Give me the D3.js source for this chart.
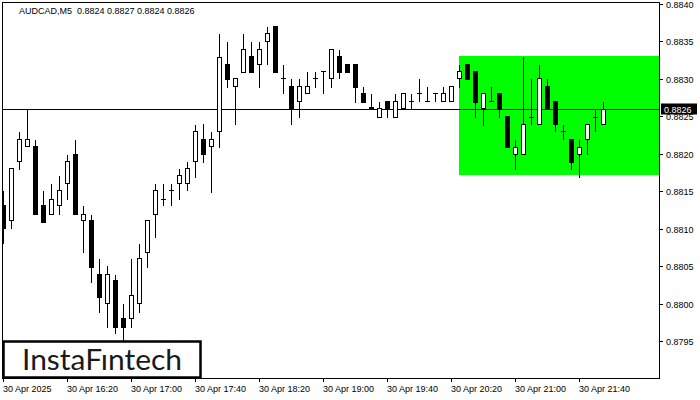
<!DOCTYPE html>
<html>
<head>
<meta charset="utf-8">
<script src="https://cdn.jsdelivr.net/npm/d3@7/dist/d3.min.js"></script>
<style>
  html, body { margin: 0; padding: 0; background: #fff; }
  svg { display: block; }
</style>
</head>
<body>
<svg id="chart" width="700" height="400"></svg>
<script>
// ---------------- DATA ----------------
const symbolTitle = "AUDCAD,M5  0.8824 0.8827 0.8824 0.8826";
const startTime = new Date(2025, 3, 30, 15, 40); // first bar
const barMinutes = 5;

const openValues = [
  .88131,.88111,.88191,.88211,.88211,.88131,.88119,.88131,.88161,.88200,
  .88111,.88111,.88040,.88001,.88031,.87981,.87981,.88001,.88069,.88120,
  .88140,.88151,.88161,.88161,.88191,.88220,.88211,.88230,.88320,.88291,
  .88309,.88331,.88320,.88351,.88371,.88301,.88291,.88271,.88281,.88301,
  .88311,.88301,.88331,.88320,.88320,.88281,.88263,.88249,.88271,.88249,
  .88261,.88271,.88281,.88271,.88281,.88271,.88271,.88301,.88320,.88311,
  .88261,.88271,.88281,.88251,.88200,.88200,.88249,.88240,.88291,.88271,
  .88230,.88220,.88200,.88220,.88249,.8824
];
const highValues = [
  .88151,.88181,.88231,.88261,.88220,.88151,.88161,.88171,.88200,.88220,
  .88131,.88120,.88061,.88051,.88040,.88001,.88061,.88081,.88111,.88161,
  .88161,.88161,.88181,.88191,.88240,.88241,.88231,.88361,.88351,.88301,
  .88361,.88351,.88351,.88371,.88371,.88320,.88301,.88301,.88311,.88311,
  .88311,.88340,.88340,.88320,.88320,.88291,.88281,.88271,.88271,.88281,
  .88281,.88281,.88301,.88291,.88281,.88291,.88291,.88320,.88320,.88311,
  .88281,.88291,.88281,.88251,.88220,.88331,.88301,.88320,.88301,.88271,
  .88240,.88220,.88220,.88240,.88261,.8827
];
const lowValues = [
  .88081,.88101,.88180,.88211,.88119,.88109,.88119,.88119,.88139,.88119,
  .88069,.88029,.87989,.87969,.87961,.87952,.87969,.87989,.88049,.88089,
  .88131,.88131,.88140,.88151,.88169,.88189,.88149,.88209,.88289,.88240,
  .88309,.88309,.88289,.88320,.88309,.88281,.88240,.88249,.88281,.88289,
  .88281,.88289,.88301,.88309,.88269,.88269,.88261,.88249,.88249,.88249,
  .88261,.88261,.88271,.88271,.88271,.88271,.88271,.88289,.88300,.88249,
  .88238,.88271,.88249,.88209,.88180,.88200,.88240,.88240,.88261,.88230,
  .88220,.88180,.88169,.88200,.88230,.8824
];
const closeValues = [
  .88101,.88181,.88220,.88220,.88119,.88109,.88140,.88151,.88191,.88119,
  .88119,.88049,.88009,.88040,.87969,.87969,.88011,.88061,.88111,.88151,
  .88140,.88151,.88171,.88181,.88231,.88200,.88220,.88329,.88300,.88301,
  .88340,.88309,.88340,.88361,.88309,.88301,.88261,.88291,.88291,.88301,
  .88311,.88340,.88309,.88309,.88289,.88269,.88261,.88261,.88261,.88271,
  .88281,.88271,.88281,.88271,.88281,.88281,.88291,.88311,.88300,.88269,
  .88281,.88271,.88261,.88209,.88209,.88240,.88249,.88301,.88261,.88240,
  .88230,.88189,.88209,.88240,.88249,.8826
];

const priceTicks = [0.8840,0.8835,0.8830,0.8825,0.8820,0.8815,0.8810,0.8805,0.8800,0.8795];
const timeTickLabels = ["30 Apr 2025","30 Apr 16:20","30 Apr 17:00","30 Apr 17:40","30 Apr 18:20",
                        "30 Apr 19:00","30 Apr 19:40","30 Apr 20:20","30 Apr 21:00","30 Apr 21:40"];
const timeTickBars = [0,8,16,24,32,40,48,56,64,72];

const currentPrice = 0.8826;
const currentPriceLabel = "0.8826";
// rectangle pattern zone
const zoneStartBar = 57;
const zoneTop = 0.88331;
const zoneBottom = 0.88171;
const logoText = "InstaF\u0131ntech";

// ---------------- LAYOUT ----------------
const plot = { left: 2, top: 2, right: 659, bottom: 378 };
const font = "'Liberation Sans', Arial, sans-serif";

const barTime = i => new Date(startTime.getTime() + i * barMinutes * 60000);
const bars = openValues.map((o, i) => ({
  t: barTime(i), o, h: highValues[i], l: lowValues[i], c: closeValues[i]
}));

// x: bar i centered at pixel column 3 + 8i
const msPerPx = barMinutes * 60000 / 8;
const x = d3.scaleTime()
  .domain([new Date(startTime.getTime() - 3.5 * msPerPx), new Date(startTime.getTime() + (700 - 3.5) * msPerPx)])
  .range([0, 700]);
const y = d3.scaleLinear().domain([0.8840, 0.8795]).range([4, 341]);

const X = t => Math.floor(x(t)) + 0.5;
const Y = p => Math.round(y(p)) + 0.5;

const svg = d3.select("#chart");

svg.append("defs").append("clipPath").attr("id", "plotclip")
  .append("rect")
  .attr("x", plot.left + 1).attr("y", plot.top + 1)
  .attr("width", plot.right - plot.left - 1).attr("height", plot.bottom - plot.top - 1);

const g = svg.append("g").attr("clip-path", "url(#plotclip)").attr("shape-rendering", "crispEdges");

// green zone
g.append("rect")
  .attr("x", Math.floor(x(barTime(zoneStartBar))))
  .attr("y", Math.round(y(zoneTop)))
  .attr("width", plot.right - Math.floor(x(barTime(zoneStartBar))))
  .attr("height", Math.round(y(zoneBottom)) - Math.round(y(zoneTop)))
  .attr("fill", "#00ff00");

// current price line
g.append("line")
  .attr("x1", plot.left).attr("x2", plot.right)
  .attr("y1", Y(currentPrice)).attr("y2", Y(currentPrice))
  .attr("stroke", "#000").attr("stroke-width", 1);

// candles
const candles = g.selectAll("g.candle").data(bars).enter().append("g").attr("class", "candle");
candles.append("line")
  .attr("x1", d => X(d.t)).attr("x2", d => X(d.t))
  .attr("y1", d => Y(d.h)).attr("y2", d => Y(d.l) + 0.5)
  .attr("stroke", "#000");
candles.each(function (d) {
  const sel = d3.select(this);
  const yo = Y(d.o), yc = Y(d.c);
  const cx = X(d.t);
  if (Math.abs(yo - yc) < 1) {
    sel.append("line")
      .attr("x1", cx - 2.5).attr("x2", cx + 2.5)
      .attr("y1", yo).attr("y2", yo)
      .attr("stroke", "#000");
  } else {
    sel.append("rect")
      .attr("x", cx - 2).attr("y", Math.min(yo, yc))
      .attr("width", 4).attr("height", Math.abs(yo - yc))
      .attr("fill", d.c < d.o ? "#000" : "#fff")
      .attr("stroke", "#000");
  }
});

// frame
svg.append("rect")
  .attr("x", plot.left + 0.5).attr("y", plot.top + 0.5)
  .attr("width", plot.right - plot.left).attr("height", plot.bottom - plot.top)
  .attr("fill", "none").attr("stroke", "#000").attr("shape-rendering", "crispEdges");

// title
svg.append("text")
  .attr("x", 19).attr("y", 14)
  .attr("font-family", font).attr("font-size", 9)
  .style("white-space", "pre")
  .attr("fill", "#000")
  .text(symbolTitle);

// y axis
const yAxis = svg.append("g");
priceTicks.forEach(p => {
  yAxis.append("line")
    .attr("x1", plot.right).attr("x2", plot.right + 4)
    .attr("y1", Y(p)).attr("y2", Y(p))
    .attr("stroke", "#000").attr("shape-rendering", "crispEdges");
  yAxis.append("text")
    .attr("x", 666).attr("y", Y(p) + 3)
    .attr("font-family", font).attr("font-size", 9)
    .attr("fill", "#000")
    .text(d3.format(".4f")(p));
});

// current price label
svg.append("rect")
  .attr("x", 661).attr("y", Y(currentPrice) - 6)
  .attr("width", 36).attr("height", 11)
  .attr("fill", "#000");
svg.append("text")
  .attr("x", 664).attr("y", Y(currentPrice) + 3)
  .attr("font-family", font).attr("font-size", 9)
  .attr("fill", "#fff")
  .text(currentPriceLabel);

// x axis
const xAxis = svg.append("g");
timeTickBars.forEach((b, k) => {
  const tx = X(barTime(b));
  xAxis.append("line")
    .attr("x1", tx).attr("x2", tx)
    .attr("y1", plot.bottom).attr("y2", plot.bottom + 4)
    .attr("stroke", "#000").attr("shape-rendering", "crispEdges");
  xAxis.append("text")
    .attr("x", tx - 0.5).attr("y", 392)
    .attr("font-family", font).attr("font-size", 9)
    .attr("fill", "#000")
    .text(timeTickLabels[k]);
});

// logo
svg.append("rect")
  .attr("x", 3.5).attr("y", 341.5)
  .attr("width", 197).attr("height", 36)
  .attr("fill", "#fff").attr("stroke", "#000").attr("stroke-width", 2.5);
svg.append("text")
  .attr("x", 22).attr("y", 369.5)
  .attr("font-family", "Lato, 'Open Sans', sans-serif").attr("font-size", 28)
  .attr("fill", "#1a1a1a")
  .attr("textLength", 160).attr("lengthAdjust", "spacingAndGlyphs")
  .text(logoText);
</script>
</body>
</html>
